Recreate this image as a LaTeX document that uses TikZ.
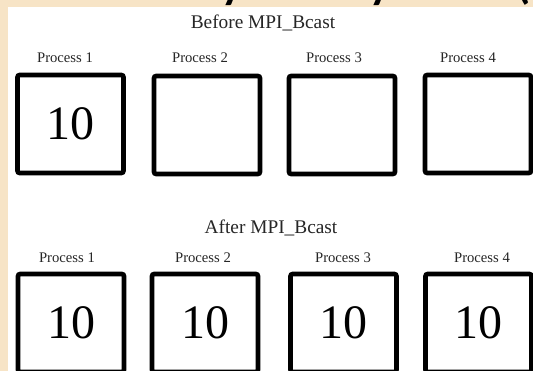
\documentclass[tikz,border=0pt]{standalone}
\usepackage{fontspec}
\setmainfont{Liberation Serif}
\newfontfamily\titlefont{Carlito}
\definecolor{beige}{HTML}{F7E4C6}
\begin{document}
\begin{tikzpicture}[x=0.75pt,y=-0.75pt,
  pbox/.style={draw=black, line width=3.4pt, rounded corners=1.5pt, fill=white,
    minimum width=79.5pt, minimum height=73.5pt, inner sep=0pt,
    font=\fontsize{36}{36}\selectfont},
  plabel/.style={text=black!85, inner sep=0pt, font=\fontsize{11}{11}\selectfont},
  heading/.style={text=black!85, inner sep=0pt, font=\fontsize{14.5}{14.5}\selectfont}]
\useasboundingbox (0,0) rectangle (533,371);
\fill[beige] (0,0) rectangle (533,371);
\fill[white] (8,7) rectangle (533,371);
% cut-off title fragments at the very top
\begin{scope}
  \clip (0,0) rectangle (533,7);
  \node[anchor=base, inner sep=0pt, font=\titlefont\bfseries\fontsize{34}{34}\selectfont] (t1) at (232,-2) {y};
  \node[anchor=base, inner sep=0pt, font=\titlefont\bfseries\fontsize{34}{34}\selectfont] (t2) at (380,-2) {y};
  \node[anchor=base, inner sep=0pt, font=\titlefont\bfseries\fontsize{34}{34}\selectfont] (t3) at (524,-2) {(};
\end{scope}
% before
\node[heading] (hb) at (263,23) {Before MPI\_Bcast};
\node[plabel] (lb1) at (65,58) {Process 1};
\node[plabel] (lb2) at (200,58) {Process 2};
\node[plabel] (lb3) at (334,58) {Process 3};
\node[plabel] (lb4) at (468,58) {Process 4};
\node[pbox] (b1) at (70.5,124) {10};
\node[pbox] (b2) at (207,125) {};
\node[pbox] (b3) at (342,125) {};
\node[pbox] (b4) at (478,124) {};
% after
\node[heading] (ha) at (271,228) {After MPI\_Bcast};
\node[plabel] (la1) at (67,258) {Process 1};
\node[plabel] (la2) at (203,258) {Process 2};
\node[plabel] (la3) at (343,258) {Process 3};
\node[plabel] (la4) at (482,258) {Process 4};
\node[pbox] (a1) at (71,323) {10};
\node[pbox] (a2) at (205,323) {10};
\node[pbox] (a3) at (343.5,323) {10};
\node[pbox] (a4) at (478.5,323) {10};
\end{tikzpicture}
\end{document}
